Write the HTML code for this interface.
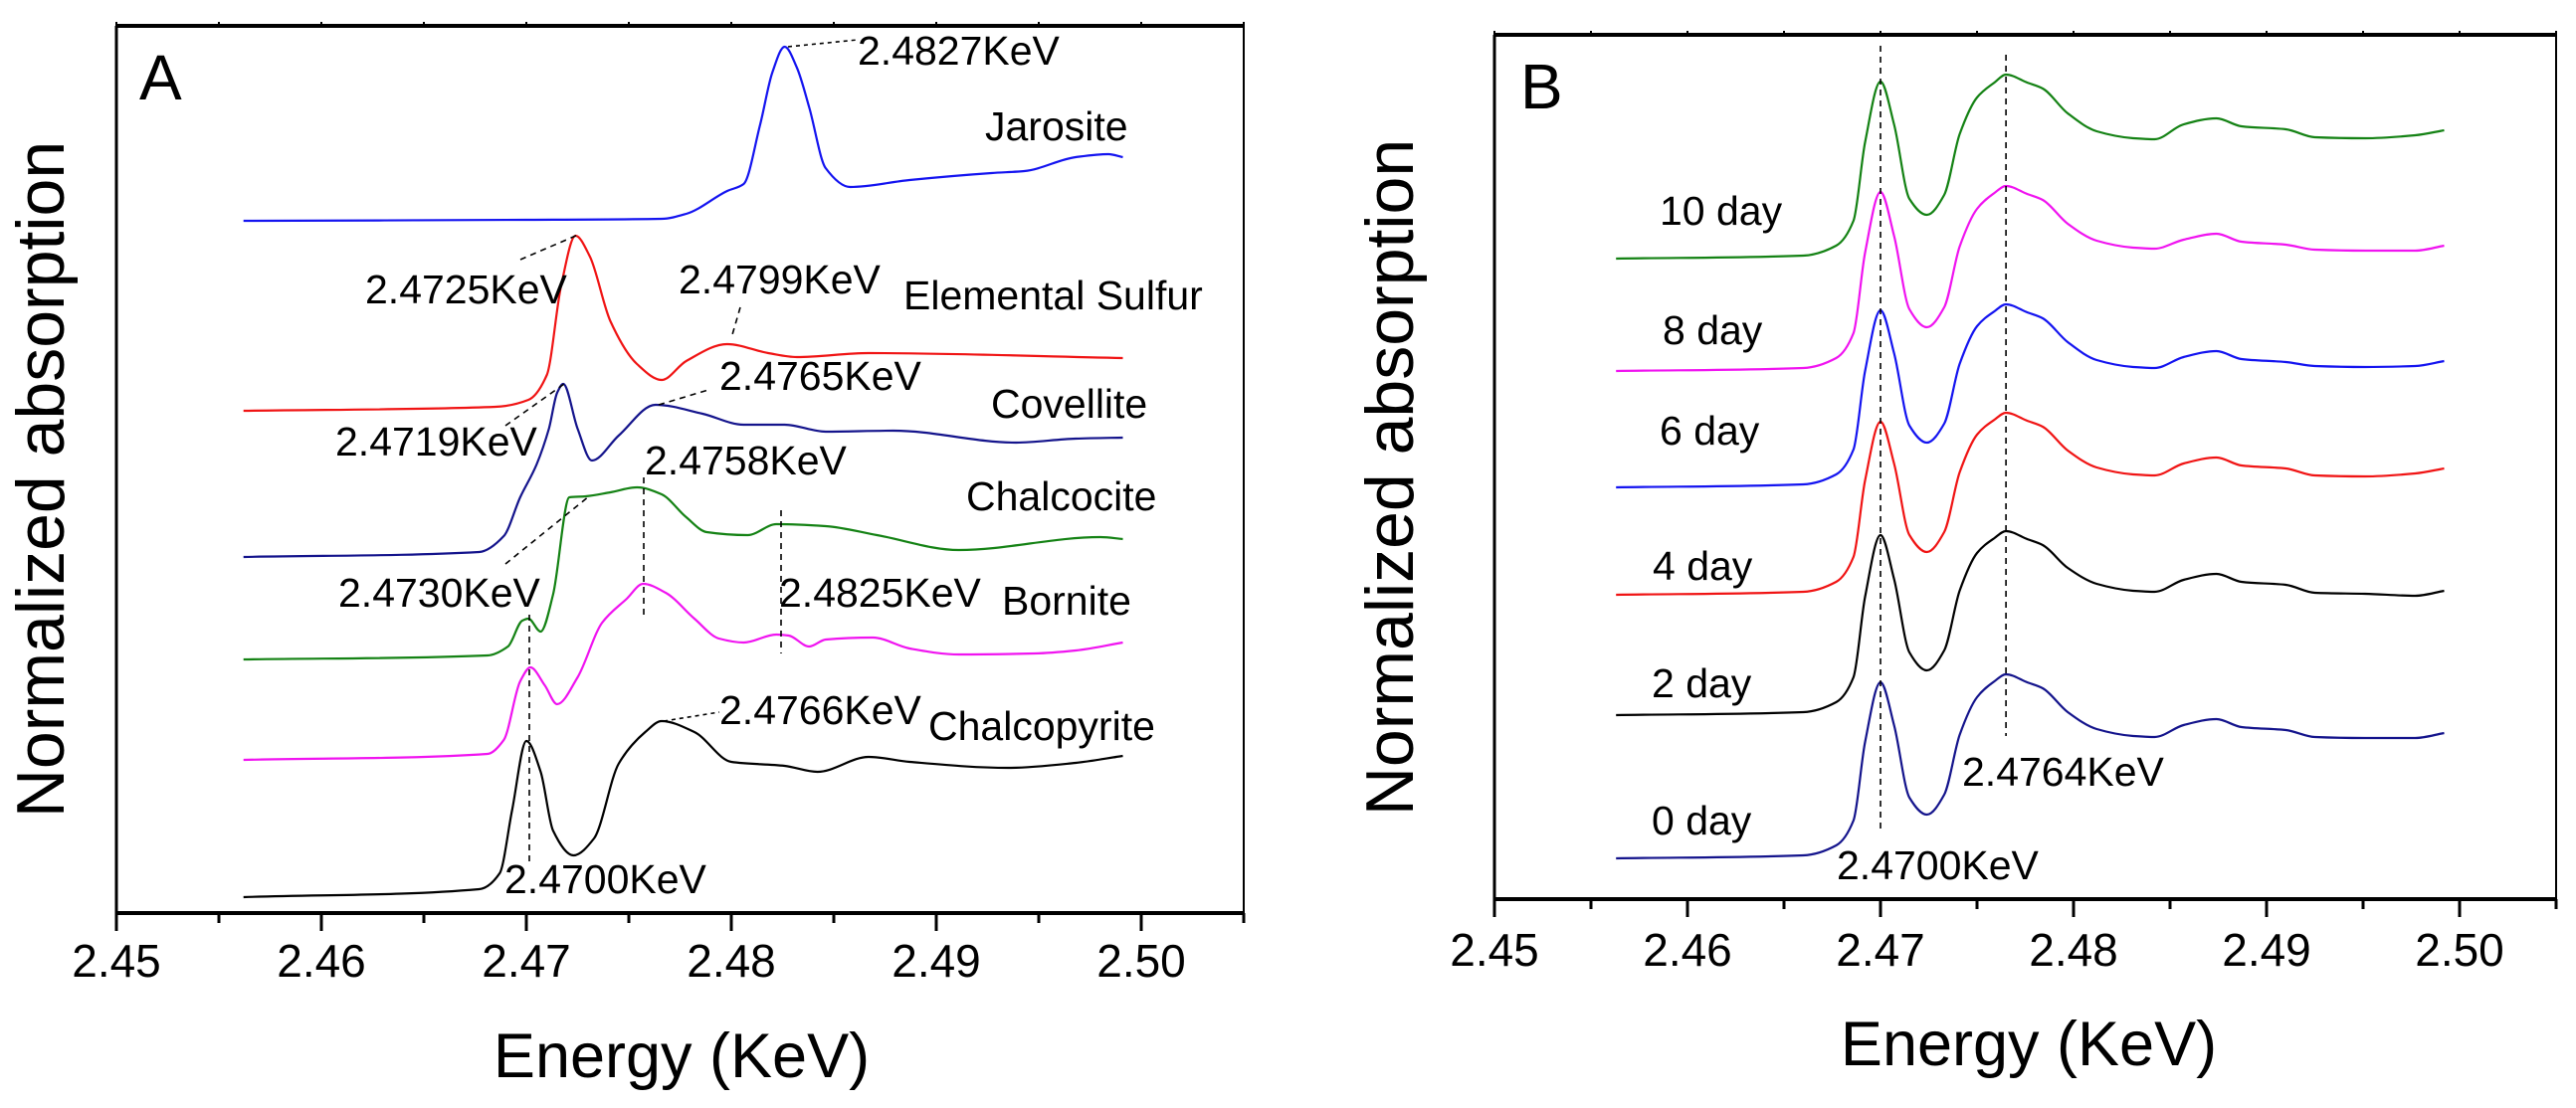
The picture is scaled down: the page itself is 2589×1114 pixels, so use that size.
<!DOCTYPE html>
<html><head><meta charset="utf-8"><style>
html,body{margin:0;padding:0;background:#fff}
svg{display:block}
text{font-family:"Liberation Sans",Arial,sans-serif;fill:#000}
</style></head><body>
<svg id="chart" width="2589" height="1114" viewBox="0 0 2589 1114" xmlns="http://www.w3.org/2000/svg">
<g id="panelA"></g>
<g id="panelB"></g>
</svg>
<script>
// ---------- Panel A data ----------
const tickLabels = ["2.45","2.46","2.47","2.48","2.49","2.50"];
const tickValues = [2.45,2.46,2.47,2.48,2.49,2.50];
const jarositeE = [2.4562,2.4700,2.4766,2.4778,2.4798,2.4806,2.4814,2.4820,2.4826,2.4832,2.4838,2.4846,2.4858,2.4887,2.4927,2.4943,2.4968,2.4984,2.4991];
const jarositeV = [6.96,6.97,6.98,7.03,7.26,7.33,7.92,8.45,8.71,8.50,8.10,7.49,7.30,7.37,7.44,7.46,7.60,7.63,7.60];
const sulfurE = [2.4562,2.4685,2.4701,2.4710,2.4717,2.4724,2.4731,2.4741,2.4754,2.4766,2.4778,2.4798,2.4818,2.4832,2.4867,2.4991];
const sulfurV = [5.05,5.09,5.16,5.41,6.31,6.81,6.60,5.95,5.52,5.36,5.55,5.72,5.63,5.59,5.63,5.58];
const covelliteE = [2.4562,2.4677,2.4689,2.4697,2.4705,2.4711,2.4715,2.4718,2.4725,2.4732,2.4745,2.4763,2.4786,2.4806,2.4826,2.4846,2.4879,2.4939,2.4968,2.4991];
const covelliteV = [3.58,3.63,3.79,4.18,4.51,4.87,5.23,5.32,4.87,4.55,4.80,5.11,5.02,4.91,4.91,4.84,4.85,4.73,4.77,4.78];
const chalcociteE = [2.4562,2.4681,2.4691,2.4698,2.4701,2.4707,2.4713,2.4721,2.4729,2.4741,2.4754,2.4766,2.4778,2.4788,2.4808,2.4822,2.4846,2.4871,2.4911,2.4980,2.4991];
const chalcociteV = [2.55,2.59,2.68,2.94,2.96,2.83,3.20,4.18,4.19,4.23,4.28,4.21,3.98,3.83,3.80,3.91,3.89,3.80,3.65,3.78,3.76];
const borniteE = [2.4562,2.4681,2.4689,2.4697,2.4702,2.4709,2.4715,2.4725,2.4737,2.4749,2.4757,2.4768,2.4782,2.4794,2.4806,2.4822,2.4828,2.4838,2.4846,2.4869,2.4887,2.4911,2.4948,2.4968,2.4991];
const borniteV = [1.54,1.60,1.74,2.33,2.47,2.29,2.10,2.37,2.92,3.16,3.31,3.22,2.96,2.76,2.72,2.80,2.79,2.68,2.75,2.77,2.66,2.60,2.61,2.64,2.72];
const chalcopyriteE = [2.4562,2.4677,2.4687,2.4693,2.4700,2.4707,2.4713,2.4723,2.4733,2.4745,2.4758,2.4766,2.4782,2.4800,2.4826,2.4842,2.4867,2.4887,2.4935,2.4968,2.4991];
const chalcopyriteV = [0.16,0.24,0.40,1.03,1.73,1.42,0.83,0.58,0.75,1.50,1.82,1.93,1.82,1.52,1.48,1.42,1.57,1.52,1.46,1.51,1.58];

// ---------- Panel B data ----------
const dayE = [2.4563,2.4660,2.4677,2.4686,2.4692,2.4700,2.4707,2.4715,2.4724,2.4733,2.4741,2.4750,2.4759,2.4765,2.4776,2.4784,2.4797,2.4812,2.4831,2.4842,2.4857,2.4874,2.4887,2.4910,2.4925,2.4951,2.4977,2.4992];
const day10V = [6.44,6.47,6.57,6.82,7.61,8.22,7.79,7.04,6.88,7.08,7.69,8.06,8.21,8.29,8.21,8.15,7.90,7.72,7.65,7.64,7.79,7.85,7.77,7.74,7.66,7.65,7.68,7.73];
const day8V = [5.31,5.34,5.44,5.69,6.50,7.11,6.67,5.93,5.75,5.95,6.56,6.94,7.10,7.17,7.09,7.03,6.79,6.62,6.55,6.54,6.63,6.69,6.61,6.58,6.53,6.52,6.52,6.57];
const day6V = [4.14,4.17,4.27,4.52,5.31,5.92,5.49,4.76,4.59,4.78,5.38,5.76,5.91,5.98,5.90,5.84,5.60,5.42,5.35,5.34,5.45,5.51,5.43,5.40,5.36,5.35,5.36,5.41];
const day4V = [3.06,3.09,3.19,3.44,4.21,4.80,4.38,3.66,3.49,3.69,4.29,4.67,4.82,4.89,4.81,4.75,4.51,4.34,4.27,4.26,4.38,4.44,4.36,4.33,4.26,4.25,4.28,4.33];
const day2V = [1.85,1.88,1.98,2.23,3.04,3.66,3.22,2.48,2.30,2.50,3.10,3.48,3.63,3.70,3.62,3.56,3.33,3.17,3.10,3.09,3.21,3.27,3.19,3.16,3.08,3.07,3.05,3.10];
const day0V = [0.41,0.44,0.54,0.79,1.58,2.18,1.75,1.02,0.85,1.05,1.65,2.03,2.19,2.26,2.18,2.12,1.88,1.71,1.64,1.63,1.75,1.81,1.73,1.70,1.63,1.62,1.62,1.67];

const NS = "http://www.w3.org/2000/svg";
function mk(parent, tag, attrs, txt){
  const e = document.createElementNS(NS, tag);
  for (const k in attrs) e.setAttribute(k, attrs[k]);
  if (txt !== undefined) e.textContent = txt;
  parent.appendChild(e);
  return e;
}
// monotone cubic (Fritsch-Carlson) path, no overshoot
function smoothPath(pts){
  const n = pts.length;
  const dx = [], dy = [], m = [];
  for (let i = 0; i < n-1; i++){ dx.push(pts[i+1][0]-pts[i][0]); dy.push(pts[i+1][1]-pts[i][1]); m.push(dy[i]/dx[i]); }
  const t = [m[0]];
  for (let i = 1; i < n-1; i++){
    if (m[i-1]*m[i] <= 0) t.push(0);
    else { const w1 = 2*dx[i]+dx[i-1], w2 = dx[i]+2*dx[i-1]; t.push((w1+w2)/(w1/m[i-1]+w2/m[i])); }
  }
  t.push(m[n-2]);
  let d = "M" + pts[0][0].toFixed(1) + "," + pts[0][1].toFixed(1);
  for (let i = 0; i < n-1; i++){
    const h = dx[i]/3;
    d += " C" + (pts[i][0]+h).toFixed(1)+","+(pts[i][1]+t[i]*h).toFixed(1)+" "+(pts[i+1][0]-h).toFixed(1)+","+(pts[i+1][1]-t[i+1]*h).toFixed(1)+" "+pts[i+1][0].toFixed(1)+","+pts[i+1][1].toFixed(1);
  }
  return d;
}

function drawPanel(g, cfg){
  const X = e => cfg.x0 + (e - 2.45) * cfg.kx;
  const Y = v => cfg.yAxis - v * 100;
  let el;
  el = mk(g, "line", {x1:X(2.45), y1:cfg.yTop, x2:X(2.505), y2:cfg.yTop, stroke:"#000", "stroke-width":4});
  
  
  el = mk(g, "line", {x1:X(2.505), y1:cfg.yTop, x2:X(2.505), y2:cfg.yAxis, stroke:"#000", "stroke-width":2});
  
  
  el = mk(g, "line", {x1:X(2.45), y1:cfg.yTop, x2:X(2.45), y2:cfg.yAxis, stroke:"#000", "stroke-width":3});
  
  
  el = mk(g, "line", {x1:X(2.45)-1, y1:cfg.yAxis, x2:X(2.505)+1, y2:cfg.yAxis, stroke:"#000", "stroke-width":4});
  
  
  for (let i = 0; i <= 11; i++){
    const e = 2.45 + i*0.005;
    const major = i % 2 === 0;
    el = mk(g, "line", {x1:X(e), y1:cfg.yAxis, x2:X(e), y2:cfg.yAxis + (major?18:10), stroke:"#000", "stroke-width":3});
    
    
    el = mk(g, "line", {x1:X(e), y1:cfg.yTop, x2:X(e), y2:cfg.yTop - 4, stroke:"#000", "stroke-width":2});
    
    
  }
  tickValues.forEach((v, i) => {
    el = mk(g, "text", {x:X(v), y:cfg.tickBase, "font-size":46, "text-anchor":"middle"}, tickLabels[i]);
    
    
  });
  el = mk(g, "text", {x:cfg.titleX, y:cfg.titleBase, "font-size":63, "text-anchor":"middle"}, "Energy (KeV)");
  
  
  el = mk(g, "text", {x:0, y:0, "font-size":68, "text-anchor":"middle", transform:"translate("+cfg.ylabX+","+cfg.ylabY+") rotate(-90)"}, "Normalized absorption");
  
  
  el = mk(g, "text", {x:cfg.letterX, y:cfg.letterY, "font-size":64}, cfg.letter);
  
  
  cfg.series.forEach(s => {
    const pts = s.e.map((e, i) => [X(e), Y(s.v[i])]);
    const p = mk(g, "path", {d:smoothPath(pts), fill:"none", stroke:s.color, "stroke-width":2.2, "stroke-linejoin":"round"});
    
    
  });
  return {X, Y};
}

const gA = document.getElementById("panelA");
const A = drawPanel(gA, {x0:117, kx:20600, yAxis:918, yTop:26, tickBase:982, titleX:685, titleBase:1083, ylabX:64, ylabY:482, letter:"A", letterX:140, letterY:100,
  series:[
    {name:"jarosite-line", e:jarositeE, v:jarositeV, color:"#1414f0"},
    {name:"elemental-sulfur-line", e:sulfurE, v:sulfurV, color:"#f01414"},
    {name:"covellite-line", e:covelliteE, v:covelliteV, color:"#14148c"},
    {name:"chalcocite-line", e:chalcociteE, v:chalcociteV, color:"#148214"},
    {name:"bornite-line", e:borniteE, v:borniteV, color:"#f014f0"},
    {name:"chalcopyrite-line", e:chalcopyriteE, v:chalcopyriteV, color:"#000"}
  ]});

function annot(g, name, txt, x, y, size){
  const t = mk(g, "text", {x:x, y:y, "font-size":size||41}, txt);
  
  
}
function lead(g, x1, y1, x2, y2, dash){
  const l = mk(g, "line", {x1:x1, y1:y1, x2:x2, y2:y2, stroke:"#000", "stroke-width":1.6, "stroke-dasharray":dash||"6,5"});
  
  
}
annot(gA, "peak-label-2-4827", "2.4827KeV", 862, 65);
lead(gA, 792, 47, 862, 40, "4,4");
annot(gA, "jarosite-label", "Jarosite", 990, 141);
annot(gA, "peak-label-2-4725", "2.4725KeV", 367, 305);
lead(gA, 523, 261, 581, 236);
annot(gA, "peak-label-2-4799", "2.4799KeV", 682, 295);
lead(gA, 744, 309, 735, 340);
annot(gA, "elemental-sulfur-label", "Elemental Sulfur", 908, 311);
annot(gA, "peak-label-2-4765", "2.4765KeV", 723, 392);
lead(gA, 662, 407, 712, 392);
annot(gA, "covellite-label", "Covellite", 996, 420);
annot(gA, "peak-label-2-4719", "2.4719KeV", 337, 458);
lead(gA, 508, 428, 567, 386);
annot(gA, "peak-label-2-4758", "2.4758KeV", 648, 477);
lead(gA, 647, 480, 647, 618);
annot(gA, "chalcocite-label", "Chalcocite", 971, 513);
annot(gA, "peak-label-2-4730", "2.4730KeV", 340, 610);
lead(gA, 508, 567, 592, 499);
annot(gA, "peak-label-2-4825", "2.4825KeV", 783, 610);
lead(gA, 785, 513, 785, 657);
annot(gA, "bornite-label", "Bornite", 1007, 618);
lead(gA, 532, 618, 532, 870);
annot(gA, "peak-label-2-4766", "2.4766KeV", 723, 728);
lead(gA, 667, 725, 723, 716, "4,4");
annot(gA, "chalcopyrite-label", "Chalcopyrite", 933, 744);
annot(gA, "peak-label-2-4700-a", "2.4700KeV", 507, 898);

const gB = document.getElementById("panelB");
const B = drawPanel(gB, {x0:1502, kx:19400, yAxis:904, yTop:35, tickBase:971, titleX:2039, titleBase:1071, ylabX:1420, ylabY:480, letter:"B", letterX:1528, letterY:109,
  series:[
    {name:"day-10-line", e:dayE, v:day10V, color:"#148214"},
    {name:"day-8-line", e:dayE, v:day8V, color:"#f014f0"},
    {name:"day-6-line", e:dayE, v:day6V, color:"#1414f0"},
    {name:"day-4-line", e:dayE, v:day4V, color:"#f01414"},
    {name:"day-2-line", e:dayE, v:day2V, color:"#000"},
    {name:"day-0-line", e:dayE, v:day0V, color:"#14148c"}
  ]});
lead(gB, B.X(2.4700), 46, B.X(2.4700), 835);
lead(gB, B.X(2.4765), 55, B.X(2.4765), 740);
annot(gB, "day-10-label", "10 day", 1668, 226);
annot(gB, "day-8-label", "8 day", 1671, 346);
annot(gB, "day-6-label", "6 day", 1668, 447);
annot(gB, "day-4-label", "4 day", 1661, 583);
annot(gB, "day-2-label", "2 day", 1660, 701);
annot(gB, "day-0-label", "0 day", 1660, 839);
annot(gB, "peak-label-2-4764", "2.4764KeV", 1972, 790);
annot(gB, "peak-label-2-4700-b", "2.4700KeV", 1846, 884);
</script>
</body></html>
